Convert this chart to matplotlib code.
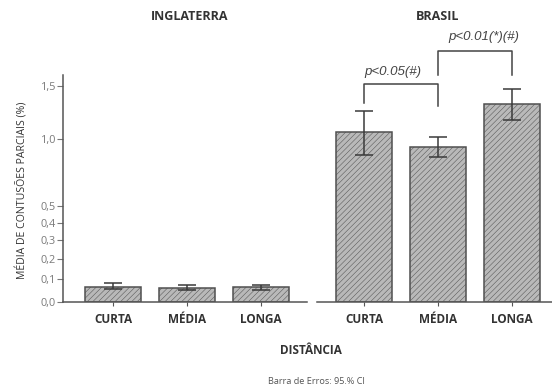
import numpy as np
import matplotlib
matplotlib.use("Agg")
import matplotlib.pyplot as plt

plt.rcParams['font.family'] = ['Open Sans', 'DejaVu Sans']
plt.rcParams['hatch.linewidth'] = 0.35
plt.rcParams['hatch.color'] = '#b0b0b0'

categories = ["CURTA", "MÉDIA", "LONGA"]

eng_mean = [0.066, 0.062, 0.063]
eng_low = [0.054, 0.052, 0.052]
eng_high = [0.085, 0.072, 0.074]

bra_mean = [1.058, 0.935, 1.317]
bra_low = [0.870, 0.854, 1.167]
bra_high = [1.252, 1.017, 1.470]

yticks = [0.0, 0.1, 0.2, 0.3, 0.4, 0.5, 1.0, 1.5]
ytick_labels = ["0,0", "0,1", "0,2", "0,3", "0,4", "0,5", "1,0", "1,5"]

# significance brackets: (x start, x end, bar height, left leg end, right leg end, label, label x, label y)
brackets = [
    (0, 1, 1.525, 1.326, 1.30, "p<0.05(#)", 0.39, 1.66),
    (1, 2, 1.91, 1.624, 1.624, "p<0.01(*)(#)", 1.62, 2.08),
]

W, H = 552, 390
fig = plt.figure(figsize=(W / 100, H / 100), dpi=100)

def frac(x0, x1, ytop, ybot):
    return [x0 / W, 1 - ybot / H, (x1 - x0) / W, (ybot - ytop) / H]

ax_l = fig.add_axes(frac(63, 307, 75, 301.7))
ax_r = fig.add_axes(frac(317, 552, 75, 301.7))

ymax = np.expm1(226.7 / 235)
bar_color = '#b9b9b9'
edge = '#505050'
dark = '#3a3a3a'

def draw(ax, mean, low, high, xlim):
    x = np.arange(len(categories))
    ax.set_yscale('function', functions=(np.log1p, np.expm1))
    ax.bar(x, mean, width=0.757, color=bar_color, edgecolor=edge,
           linewidth=1.1, hatch='//////', zorder=2)
    mean = np.array(mean)
    yerr = [mean - np.array(low), np.array(high) - mean]
    ax.errorbar(x, mean, yerr=yerr, fmt='none', ecolor=dark,
                elinewidth=1.1, capsize=6.5, capthick=1.1, zorder=3)
    ax.set_xlim(*xlim)
    ax.set_ylim(0, ymax)
    ax.set_xticks(x)
    ax.set_xticklabels(categories, fontsize=8.5, fontweight='bold', color='#333333')
    ax.tick_params(axis='x', length=3, width=0.8, color='#555555', pad=5)
    for s in ('top', 'right'):
        ax.spines[s].set_visible(False)
    ax.spines['bottom'].set_color('#555555')
    ax.spines['bottom'].set_linewidth(1.1)

draw(ax_l, eng_mean, eng_low, eng_high, (-0.682, 2.62))
draw(ax_r, bra_mean, bra_low, bra_high, (-0.635, -0.635 + 235 / 74))

ax_l.set_yticks(yticks)
ax_l.set_yticklabels(ytick_labels, fontsize=7.8, color='#7a7a7a')
ax_l.yaxis.set_minor_locator(matplotlib.ticker.NullLocator())
ax_l.tick_params(axis='y', length=4, width=0.8, color='#777777', pad=1)
ax_l.spines['left'].set_color('#555555')
ax_l.spines['left'].set_linewidth(1.1)
ax_l.set_ylabel("MÉDIA DE CONTUSÕES PARCIAIS (%)", fontsize=7.6, color='#333333')
ax_l.yaxis.set_label_coords(-0.143, 0.49)

ax_r.spines['left'].set_visible(False)
ax_r.set_yticks([])
ax_r.yaxis.set_minor_locator(matplotlib.ticker.NullLocator())

fig.text(190 / W, 1 - 16 / H, "INGLATERRA", fontsize=9, fontweight='bold',
         color='#333333', ha='center', va='center')
fig.text(438 / W, 1 - 16 / H, "BRASIL", fontsize=9, fontweight='bold',
         color='#333333', ha='center', va='center')

for x0, x1, yb, yl, yr, label, tx, ty in brackets:
    ax_r.plot([x0, x0, x1, x1], [yl, yb, yb, yr], color='#444444', lw=1.1,
              clip_on=False, zorder=4)
    ax_r.text(tx, ty, label, fontsize=9.5, style='italic', color='#444444',
              family=['Liberation Sans', 'DejaVu Sans'], ha='center', va='center',
              clip_on=False)

fig.text(311 / W, 1 - 350 / H, "DISTÂNCIA", fontsize=8.5, fontweight='bold',
         color='#333333', ha='center', va='center')
fig.text(316 / W, 1 - 382 / H, "Barra de Erros: 95.% CI", fontsize=6.6,
         color='#555555', ha='center', va='center')

fig.savefig("out.png", dpi=100)
